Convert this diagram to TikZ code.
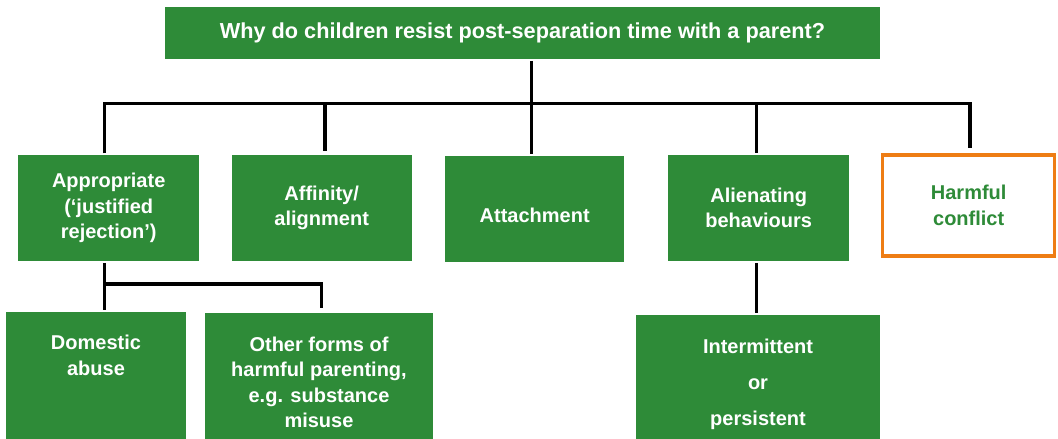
\documentclass[tikz,border=0pt]{standalone}
\usepackage{fontspec}
\setmainfont{Liberation Sans}
\definecolor{boxgreen}{RGB}{46,139,56}
\definecolor{conflorange}{RGB}{238,125,20}
\begin{document}
\begin{tikzpicture}[x=1pt,y=-1pt,line width=3.5pt,
gbox/.style={fill=boxgreen,text=white,font=\bfseries\fontsize{20}{25.5}\selectfont,align=center,inner sep=0pt},
midbox/.style={gbox,minimum height=106,execute at begin node={\rule{0pt}{27pt}}},
lowbox/.style={gbox,anchor=north,inner ysep=23.5pt,text depth=120pt}]
\useasboundingbox(0,0)rectangle(1058,439);
\clip(0,0)rectangle(1058,439);
\fill[white](0,0)rectangle(1058,439);
\node[gbox,font=\bfseries\fontsize{21.7}{26}\selectfont,minimum width=715,minimum height=52](title)at(522.5,33){Why do children resist post-separation time with a parent?};
\node[midbox,minimum width=181](appr)at(108.7,208){Appropriate\\(‘justified\\rejection’)};
\node[midbox,minimum width=180](aff)at(321.7,208){Affinity/\\alignment};
\node[midbox,minimum width=179](att)at(534.7,208.7){Attachment};
\node[midbox,minimum width=181](alien)at(758.7,208){Alienating\\behaviours};
\node[gbox,fill=white,draw=conflorange,text=boxgreen,line width=3.5pt,minimum width=172,minimum height=101](harm)at(968.7,205.5){Harmful\\conflict};
\node[lowbox,minimum width=180](dom)at(96,310){Domestic\\abuse};
\node[lowbox,minimum width=228.6](other)at(319,311.7){Other forms of\\harmful parenting,\\e.g. substance\\misuse};
\node[lowbox,minimum width=244,font=\bfseries\fontsize{20}{36}\selectfont](inter)at(758,313.3){Intermittent\\or\\persistent};
\coordinate(hub)at(531.7,103.3);
\coordinate(b1)at(104.3,103.3);
\coordinate(b2)at(325,103.3);
\coordinate(b4)at(756.5,103.3);
\coordinate(b5)at(970,103.3);
\coordinate(s1)at(104.3,284);
\coordinate(s2)at(321.7,284);
\draw(title.south-|hub)--(hub|-att.north);
\draw[shorten >=5pt](appr.north-|b1)--(b1)--(b5)--(harm.north-|b5);
\draw[shorten >=2pt](b2)--(b2|-aff.north);
\draw(b4)--(b4|-alien.north);
\draw(alien.south-|b4)--(inter.north-|b4);
\draw(appr.south-|s1)--(dom.north-|s1);
\draw[shorten >=3.5pt](s1)--(s2)--(s2|-other.north);
\end{tikzpicture}
\end{document}
